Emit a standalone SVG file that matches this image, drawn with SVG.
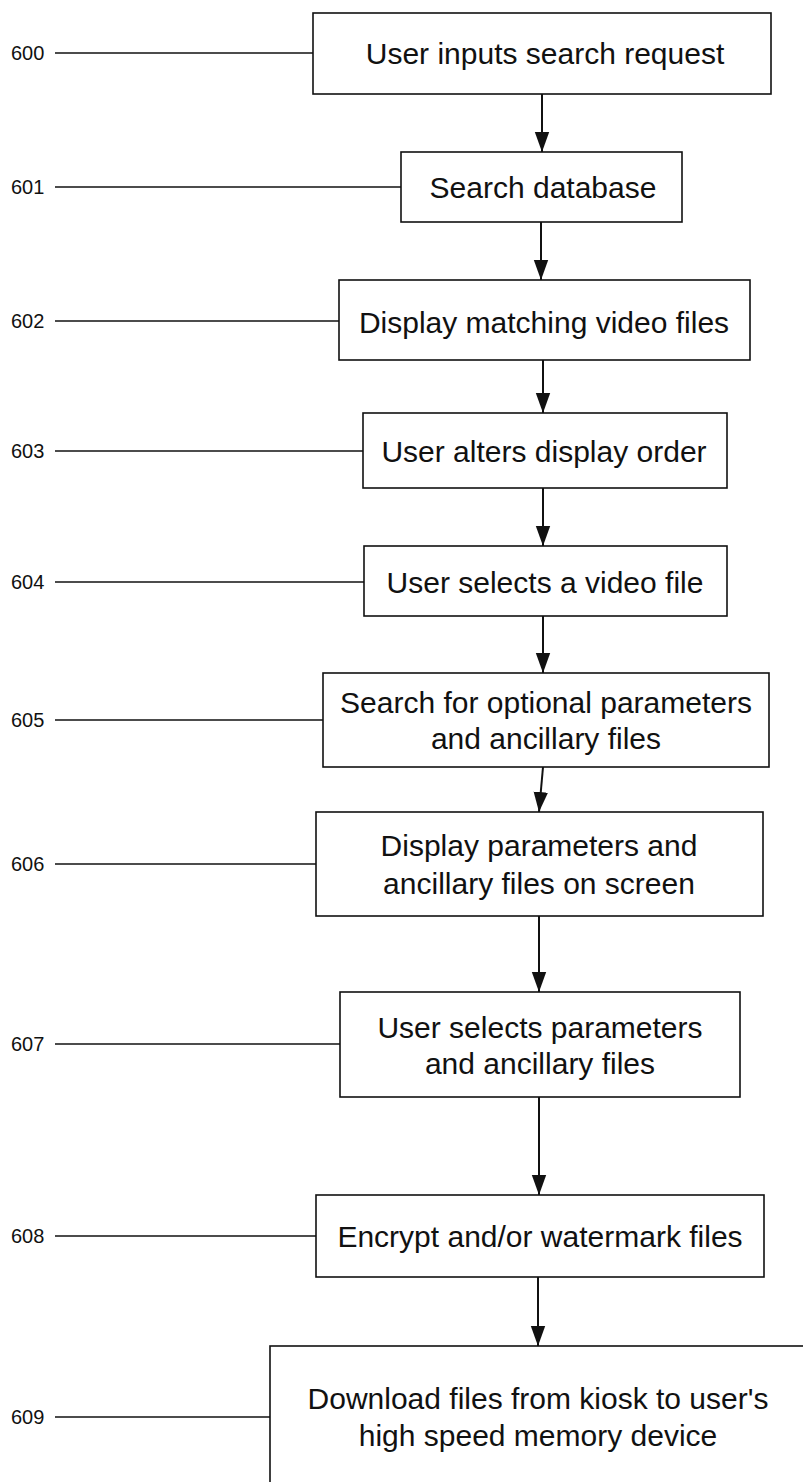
<svg xmlns="http://www.w3.org/2000/svg" width="803" height="1482" viewBox="0 0 803 1482">
<style>
.box{fill:#fff;stroke:#111;stroke-width:1.6}
.t{font-family:"Liberation Sans",Arial,sans-serif;font-size:30px;fill:#111;text-anchor:middle}
.lbl{font-family:"Liberation Sans",Arial,sans-serif;font-size:20px;fill:#111}
.lead{stroke:#111;stroke-width:1.6;fill:none}
.arr{stroke:#111;stroke-width:2;fill:none;marker-end:url(#ah)}
</style>
<defs>
<marker id="ah" markerUnits="userSpaceOnUse" markerWidth="20" markerHeight="28" refX="25" refY="9" orient="auto" viewBox="0 0 25 18">
<path d="M0,0 L25,9 L0,18 Z" fill="#111"/>
</marker>
</defs>
<rect width="803" height="1482" fill="#fff"/>
<g id="connectors">
<line class="arr" x1="542" y1="94" x2="542" y2="152"/>
<line class="arr" x1="541" y1="222" x2="541" y2="280"/>
<line class="arr" x1="543" y1="360" x2="543" y2="413"/>
<line class="arr" x1="543" y1="488" x2="543" y2="546"/>
<line class="arr" x1="543" y1="616" x2="543" y2="673"/>
<line class="arr" x1="543" y1="767" x2="539" y2="812"/>
<line class="arr" x1="539" y1="916" x2="539" y2="992"/>
<line class="arr" x1="539" y1="1097" x2="539" y2="1195"/>
<line class="arr" x1="538" y1="1277" x2="538" y2="1346"/>
</g>
<g id="n600">
<rect class="box" x="313" y="13" width="458" height="81"/>
<text class="t" x="545" y="64">User inputs search request</text>
<line class="lead" x1="55" y1="53" x2="313" y2="53"/>
<text class="lbl" x="11" y="60">600</text>
</g>
<g id="n601">
<rect class="box" x="401" y="152" width="281" height="70"/>
<text class="t" x="543" y="198">Search database</text>
<line class="lead" x1="55" y1="187" x2="401" y2="187"/>
<text class="lbl" x="11" y="194">601</text>
</g>
<g id="n602">
<rect class="box" x="339" y="280" width="411" height="80"/>
<text class="t" x="544" y="333">Display matching video files</text>
<line class="lead" x1="55" y1="321" x2="339" y2="321"/>
<text class="lbl" x="11" y="328">602</text>
</g>
<g id="n603">
<rect class="box" x="363" y="413" width="364" height="75"/>
<text class="t" x="544" y="462">User alters display order</text>
<line class="lead" x1="55" y1="451" x2="363" y2="451"/>
<text class="lbl" x="11" y="458">603</text>
</g>
<g id="n604">
<rect class="box" x="364" y="546" width="363" height="70"/>
<text class="t" x="545" y="593">User selects a video file</text>
<line class="lead" x1="55" y1="582" x2="364" y2="582"/>
<text class="lbl" x="11" y="589">604</text>
</g>
<g id="n605">
<rect class="box" x="323" y="673" width="446" height="94"/>
<text class="t" x="546" y="713">Search for optional parameters</text>
<text class="t" x="546" y="749">and ancillary files</text>
<line class="lead" x1="55" y1="720" x2="323" y2="720"/>
<text class="lbl" x="11" y="727">605</text>
</g>
<g id="n606">
<rect class="box" x="316" y="812" width="447" height="104"/>
<text class="t" x="539" y="856">Display parameters and</text>
<text class="t" x="539" y="894">ancillary files on screen</text>
<line class="lead" x1="55" y1="864" x2="316" y2="864"/>
<text class="lbl" x="11" y="871">606</text>
</g>
<g id="n607">
<rect class="box" x="340" y="992" width="400" height="105"/>
<text class="t" x="540" y="1038">User selects parameters</text>
<text class="t" x="540" y="1074">and ancillary files</text>
<line class="lead" x1="55" y1="1044" x2="340" y2="1044"/>
<text class="lbl" x="11" y="1051">607</text>
</g>
<g id="n608">
<rect class="box" x="316" y="1195" width="448" height="82"/>
<text class="t" x="540" y="1247">Encrypt and/or watermark files</text>
<line class="lead" x1="55" y1="1236" x2="316" y2="1236"/>
<text class="lbl" x="11" y="1243">608</text>
</g>
<g id="n609">
<rect class="box" x="270" y="1346" width="600" height="200"/>
<text class="t" x="538" y="1409">Download files from kiosk to user's</text>
<text class="t" x="538" y="1446">high speed memory device</text>
<line class="lead" x1="55" y1="1417" x2="270" y2="1417"/>
<text class="lbl" x="11" y="1424">609</text>
</g>
</svg>
